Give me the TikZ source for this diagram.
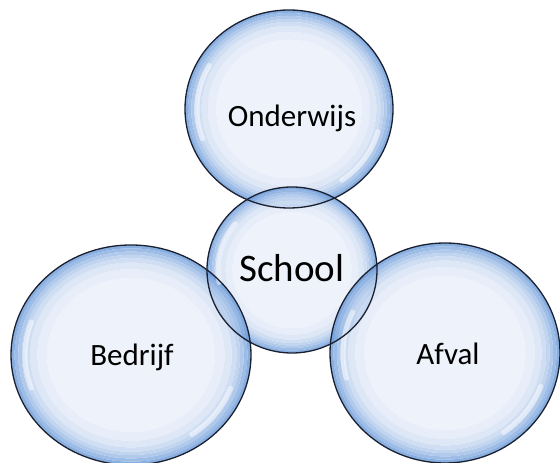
\documentclass[tikz,border=0pt]{standalone}
\usepackage{fontspec}
\setmainfont{Carlito}

\definecolor{bubin}{HTML}{EAEFF9}
\definecolor{bubrim}{HTML}{6C9BDA}
\definecolor{bubline}{HTML}{1A2030}

\begin{document}
\begin{tikzpicture}
[x=1pt,y=1pt
,ring/.style={fill opacity=0.8,even odd rule}
,rim/.style={draw=bubline,line width=1.3pt}
,hl/.style={draw=white,line width=5pt,line cap=round,opacity=0.5}
,lbl/.style={anchor=base,inner sep=0pt,font=\fontsize{31}{37}\selectfont}
,big/.style={lbl,font=\fontsize{39}{46}\selectfont}]
\useasboundingbox (0,0) rectangle (560,463);

% bubbles, filled ring by ring from the rim inwards
\foreach \cx/\cy/\rx/\ry in {289/354/104/99,292/193/85/83,131/108/120/110,445/110/115/110}{
  \foreach \a/\b/\c in {1.00/0.97/100,0.97/0.94/80,0.94/0.91/60,0.91/0.88/44,0.88/0.84/30,0.84/0.78/17,0.78/0.70/7}{
    \fill[ring,bubrim!\c!bubin] (\cx,\cy) ellipse [x radius=\a*\rx,y radius=\a*\ry]
      (\cx,\cy) ellipse [x radius=\b*\rx,y radius=\b*\ry];
  }
  \fill[ring,bubin] (\cx,\cy) ellipse [x radius=0.70*\rx,y radius=0.70*\ry];
}

% highlights
\draw[hl] (289,354) ++(150:92 and 87) arc [start angle=150,end angle=200,x radius=92,y radius=87];
\draw[hl] (289,354) ++(-55:92 and 87) arc [start angle=-55,end angle=-15,x radius=92,y radius=87];
\draw[hl] (292,193) ++(140:74 and 72) arc [start angle=140,end angle=190,x radius=74,y radius=72];
\draw[hl] (131,108) ++(160:106 and 97) arc [start angle=160,end angle=200,x radius=106,y radius=97];
\draw[hl] (131,108) ++(-55:106 and 97) arc [start angle=-55,end angle=-20,x radius=106,y radius=97];
\draw[hl] (445,110) ++(155:102 and 97) arc [start angle=155,end angle=195,x radius=102,y radius=97];
\draw[hl] (445,110) ++(-55:102 and 97) arc [start angle=-55,end angle=-20,x radius=102,y radius=97];

% outlines
\draw[rim] (289,354) ellipse [x radius=104,y radius=99];
\draw[rim] (292,193) ellipse [x radius=85,y radius=83];
\draw[rim] (131,108) ellipse [x radius=120,y radius=110];
\draw[rim] (445,110) ellipse [x radius=115,y radius=110];

\node[lbl] (onderwijs) at (292,336) {Onderwijs};
\node[big] (school) at (292,181) {School};
\node[lbl] (bedrijf) at (132,97) {Bedrijf};
\node[lbl] (afval) at (448,98) {Afval};
\end{tikzpicture}
\end{document}
